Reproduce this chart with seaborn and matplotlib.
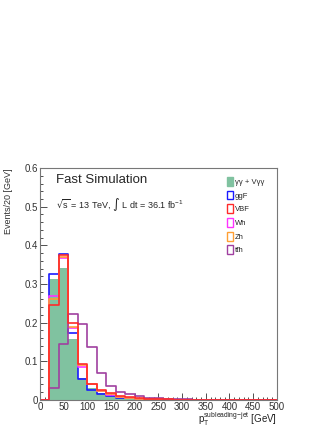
import matplotlib
matplotlib.use("Agg")
from matplotlib import pyplot as plt
from matplotlib.ticker import MultipleLocator
from matplotlib.patches import Patch
import pandas as pd
import seaborn as sns

edges = list(range(0, 520, 20))
centers = [e + 10 for e in edges[:-1]]

bkg = [0.0, 0.312, 0.342, 0.158, 0.056, 0.030, 0.017, 0.010, 0.006, 0.004, 0.003, 0.002, 0.0015,
       0.001, 0.001, 0.0007, 0.0005, 0.0004, 0.0003, 0.0003, 0.0002, 0.0002, 0.0001, 0.0001, 0.0001]
ggf = [0.0, 0.327, 0.378, 0.173, 0.055, 0.026, 0.015, 0.010, 0.006, 0.004, 0.002, 0.0015, 0.001,
       0.001, 0.0007, 0.0005, 0.0004, 0.0003, 0.0002, 0.0002, 0.0001, 0.0001, 0.0001, 0.0, 0.0]
vbf = [0.0, 0.245, 0.374, 0.199, 0.094, 0.041, 0.026, 0.017, 0.010, 0.007, 0.004, 0.003, 0.002,
       0.0015, 0.001, 0.0008, 0.0006, 0.0004, 0.0003, 0.0003, 0.0002, 0.0002, 0.0001, 0.0001, 0.0001]
wh = [0.0, 0.270, 0.368, 0.186, 0.085, 0.040, 0.022, 0.013, 0.008, 0.005, 0.003, 0.002, 0.0015,
      0.001, 0.0008, 0.0006, 0.0004, 0.0003, 0.0002, 0.0002, 0.0001, 0.0001, 0.0001, 0.0, 0.0]
zh = [0.0, 0.260, 0.370, 0.190, 0.090, 0.042, 0.023, 0.014, 0.008, 0.005, 0.003, 0.002, 0.0015,
      0.001, 0.0008, 0.0006, 0.0004, 0.0003, 0.0002, 0.0002, 0.0001, 0.0001, 0.0001, 0.0, 0.0]
tth = [0.0, 0.030, 0.145, 0.223, 0.197, 0.136, 0.069, 0.035, 0.020, 0.014, 0.009, 0.006, 0.005,
       0.003, 0.002, 0.0015, 0.001, 0.0008, 0.0005, 0.0004, 0.0003, 0.0002, 0.0002, 0.0001, 0.0001]

labels = ["γγ + Vγγ", "ggF", "VBF", "Wh", "Zh", "tt\u0304h"]
colors = ["#80c2a0", "#1a1aff", "#ff2a2a", "#ff33ff", "#ff9f33", "#a040a0"]

df = pd.DataFrame({"pt": centers, "bkg": bkg, "ggf": ggf, "vbf": vbf, "wh": wh, "zh": zh, "tth": tth})

sns.set_style("ticks")
plt.rcParams['font.family'] = ['Liberation Sans', 'DejaVu Sans']

fig = plt.figure(figsize=(3.32, 4.30), dpi=100)
ax = fig.add_axes([0.120, 0.070, 0.714, 0.539])

sns.histplot(data=df, x="pt", weights="bkg", bins=edges, element="step", fill=True,
             color=colors[0], alpha=1.0, linewidth=0, ax=ax)
# draw order: VBF ends up on top as in the reference
for col_name, col in [("ggf", colors[1]), ("wh", colors[3]), ("zh", colors[4]),
                      ("tth", colors[5]), ("vbf", colors[2])]:
    sns.histplot(data=df, x="pt", weights=col_name, bins=edges, element="step", fill=False,
                 color=col, linewidth=1.2, ax=ax)

ax.set_xlim(0, 500)
ax.set_ylim(0, 0.6)
ax.xaxis.set_major_locator(MultipleLocator(50))
ax.xaxis.set_minor_locator(MultipleLocator(10))
ax.yaxis.set_major_locator(MultipleLocator(0.1))
ax.yaxis.set_minor_locator(MultipleLocator(0.02))
ax.tick_params(which="both", direction="in", top=False, right=False, labelsize=7,
               colors="#333333", pad=1.5)
ax.tick_params(which="major", length=5, width=0.6)
ax.tick_params(which="minor", length=2.5, width=0.6)
ax.set_yticks([0, 0.1, 0.2, 0.3, 0.4, 0.5, 0.6])
ax.set_yticklabels(["0", "0.1", "0.2", "0.3", "0.4", "0.5", "0.6"])
for s in ax.spines.values():
    s.set_color("#777777")
    s.set_linewidth(0.8)

ax.set_xlabel("")
ax.set_ylabel("")
fig.text(0.026, 0.609, "Events/20 [GeV]", rotation=90, ha="center", va="top", fontsize=6.5, color="#333333")
fig.text(0.834, 0.004, r"p$_\mathregular{T}^\mathregular{subleading{-}jet}$ [GeV]", ha="right", va="bottom",
         fontsize=7, color="#222222")

ax.text(0.07, 0.975, "Fast Simulation", transform=ax.transAxes, ha="left", va="top", fontsize=9.5)
ax.text(0.07, 0.88, r"$\sqrt{\mathregular{s}}$ = 13 TeV, $\int$ L dt = 36.1 fb$^\mathregular{-1}$",
        transform=ax.transAxes, ha="left", va="top", fontsize=6.5)

handles = [Patch(facecolor=colors[0], edgecolor=colors[0])]
handles += [Patch(facecolor="white", edgecolor=c, linewidth=1.0) for c in colors[1:]]
leg = ax.legend(handles, labels, loc="upper left", bbox_to_anchor=(0.775, 0.975), frameon=False,
                fontsize=5.5, handlelength=0.9, handleheight=1.4, handletextpad=0.2,
                labelspacing=0.62, borderaxespad=0)

fig.savefig("out.png", dpi=100)
